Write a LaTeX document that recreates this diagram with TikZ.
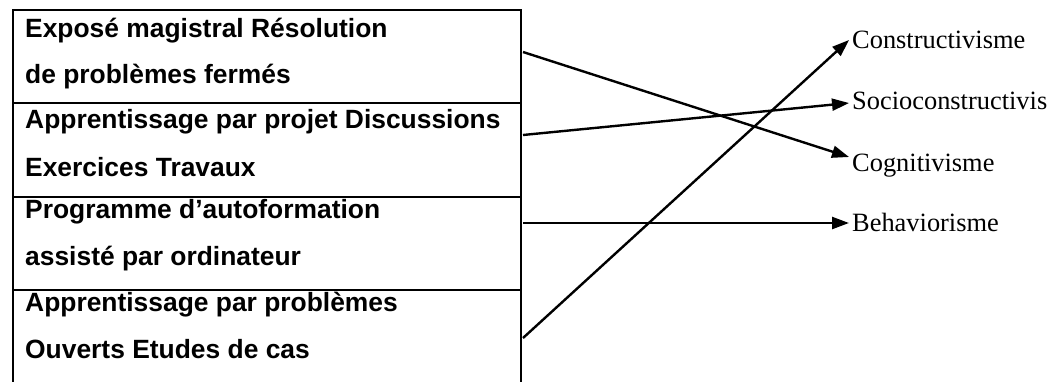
\documentclass[tikz,border=0pt]{standalone}
\usepackage{fontspec}
\setmainfont{Liberation Serif}
\newfontfamily\arialfont{Liberation Sans}
\usetikzlibrary{arrows.meta}
\tikzset{
  rowbox/.style={draw, line width=2.4pt, minimum width=508pt, inner sep=0pt, anchor=north west},
  lefttxt/.style={anchor=base west, inner sep=0pt, font=\arialfont\bfseries\fontsize{26.4}{30}\selectfont},
  righttxt/.style={anchor=base west, inner sep=0pt, font=\fontsize{26.4}{30}\selectfont},
  link/.style={line width=2.4pt, -{Triangle[length=17pt,width=12pt]}}
}
\begin{document}
\begin{tikzpicture}[x=1pt,y=-1pt]
\useasboundingbox (0,0) rectangle (1054,381);
\clip (0,0) rectangle (1054,381);
% table rows
\node[rowbox, minimum height=93pt] (row1) at (12,9) {};
\node[rowbox, minimum height=94pt] (row2) at (12,102) {};
\node[rowbox, minimum height=93pt] (row3) at (12,196) {};
\node[rowbox, minimum height=100pt] (row4) at (12,289) {};
% row texts
\node[lefttxt] (r1a) at (25,37) {Exposé magistral Résolution};
\node[lefttxt] (r1b) at (25,83) {de problèmes fermés};
\node[lefttxt] (r2a) at (25,128) {Apprentissage par projet Discussions};
\node[lefttxt] (r2b) at (25,176) {Exercices Travaux};
\node[lefttxt] (r3a) at (25,218) {Programme d’autoformation};
\node[lefttxt] (r3b) at (25,265) {assisté par ordinateur};
\node[lefttxt] (r4a) at (25,311) {Apprentissage par problèmes};
\node[lefttxt] (r4b) at (25,358) {Ouverts Etudes de cas};
% right labels
\node[righttxt] (cons) at (852,48) {Constructivisme};
\node[righttxt] (socio) at (852,109) {Socioconstructivis};
\node[righttxt] (cogn) at (852,171) {Cognitivisme};
\node[righttxt] (behav) at (852,231) {Behaviorisme};
% connector start points
\coordinate (s1) at (523,52);
\coordinate (s2) at (523,135);
\coordinate (s3) at (523,223);
\coordinate (s4) at (523,338);
% connector end points
\coordinate (e1) at ([xshift=-3pt,yshift=14pt]cogn.base west);
\coordinate (e2) at ([xshift=-3pt,yshift=6pt]socio.base west);
\coordinate (e3) at ([xshift=-3pt,yshift=8pt]behav.base west);
\coordinate (e4) at ([xshift=-3pt,yshift=8pt]cons.base west);
\draw[link] (s1) -- (e1);
\draw[link] (s2) -- (e2);
\draw[link] (s3) -- (e3);
\draw[link] (s4) -- (e4);
\end{tikzpicture}
\end{document}
